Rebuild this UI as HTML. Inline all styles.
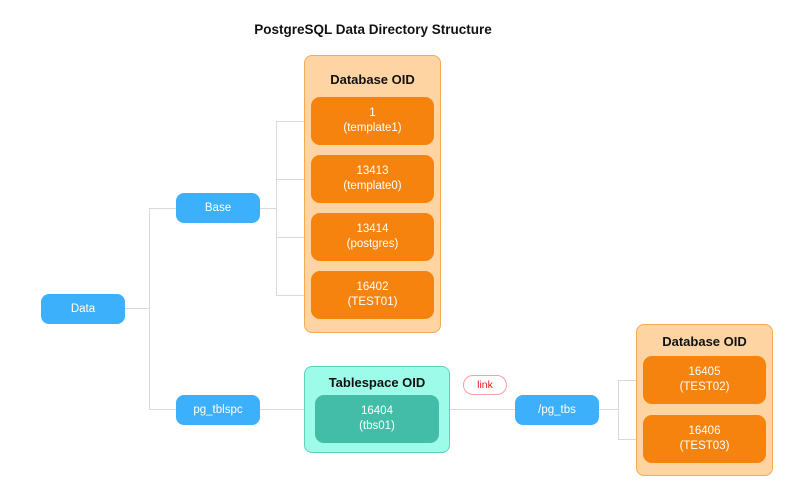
<!DOCTYPE html>
<html><head><style>
body{margin:0;width:800px;height:492px;background:#fff;font-family:"Liberation Sans",sans-serif;position:relative;overflow:hidden}
div{position:absolute;box-sizing:border-box}
.b{background:#3cb0fa;color:#fff;border-radius:8px;font-size:11.5px;display:flex;align-items:center;justify-content:center}
.c{background:#fdd4a2;border:1px solid #f5ab50;border-radius:8px}
.o{background:#f6830d;color:#fff;border-radius:9px;font-size:11.5px;display:flex;align-items:center;justify-content:center;text-align:center;line-height:15px}
.h{font-weight:bold;font-size:13px;color:#111;text-align:center;width:100%}
.l{background:#d9d9d9}
</style></head><body>
<div class="h" style="top:22px;left:-27px;font-size:13.5px">PostgreSQL Data Directory Structure</div>
<div class="l" style="left:125px;top:308px;width:24px;height:1px"></div>
<div class="l" style="left:149px;top:208px;width:1px;height:202px"></div>
<div class="l" style="left:149px;top:208px;width:27px;height:1px"></div>
<div class="l" style="left:149px;top:409px;width:27px;height:1px"></div>
<div class="l" style="left:260px;top:208px;width:16px;height:1px"></div>
<div class="l" style="left:276px;top:121px;width:1px;height:175px"></div>
<div class="l" style="left:276px;top:121px;width:35px;height:1px"></div>
<div class="l" style="left:276px;top:179px;width:35px;height:1px"></div>
<div class="l" style="left:276px;top:237px;width:35px;height:1px"></div>
<div class="l" style="left:276px;top:295px;width:35px;height:1px"></div>
<div class="l" style="left:260px;top:409px;width:44px;height:1px"></div>
<div class="l" style="left:449px;top:409px;width:66px;height:1px"></div>
<div class="l" style="left:599px;top:409px;width:19px;height:1px"></div>
<div class="l" style="left:618px;top:380px;width:1px;height:60px"></div>
<div class="l" style="left:618px;top:380px;width:25px;height:1px"></div>
<div class="l" style="left:618px;top:439px;width:25px;height:1px"></div>
<div class="b" style="left:41px;top:294px;width:84px;height:30px">Data</div>
<div class="b" style="left:176px;top:193px;width:84px;height:30px">Base</div>
<div class="b" style="left:176px;top:395px;width:84px;height:30px">pg_tblspc</div>
<div class="b" style="left:515px;top:395px;width:84px;height:30px">/pg_tbs</div>
<div class="c" style="left:304px;top:55px;width:137px;height:278px"><div class="h" style="top:16px">Database OID</div></div>
<div class="o" style="left:311px;top:97px;width:123px;height:48px">1<br>(template1)</div>
<div class="o" style="left:311px;top:155px;width:123px;height:48px">13413<br>(template0)</div>
<div class="o" style="left:311px;top:213px;width:123px;height:48px">13414<br>(postgres)</div>
<div class="o" style="left:311px;top:271px;width:123px;height:48px">16402<br>(TEST01)</div>
<div style="left:304px;top:366px;width:146px;height:87px;background:#9cfce9;border:1px solid #5dd3ba;border-radius:8px"><div class="h" style="top:8px">Tablespace OID</div></div>
<div class="o" style="left:315px;top:395px;width:124px;height:48px;background:#43bca8">16404<br>(tbs01)</div>
<div style="left:463px;top:375px;width:44px;height:20px;border:1px solid #f9a0a0;border-radius:10px;color:#e61919;font-size:10.5px;display:flex;align-items:center;justify-content:center;background:#fff">link</div>
<div class="c" style="left:636px;top:324px;width:137px;height:152px"><div class="h" style="top:9px">Database OID</div></div>
<div class="o" style="left:643px;top:356px;width:123px;height:48px">16405<br>(TEST02)</div>
<div class="o" style="left:643px;top:415px;width:123px;height:48px">16406<br>(TEST03)</div>
</body></html>
